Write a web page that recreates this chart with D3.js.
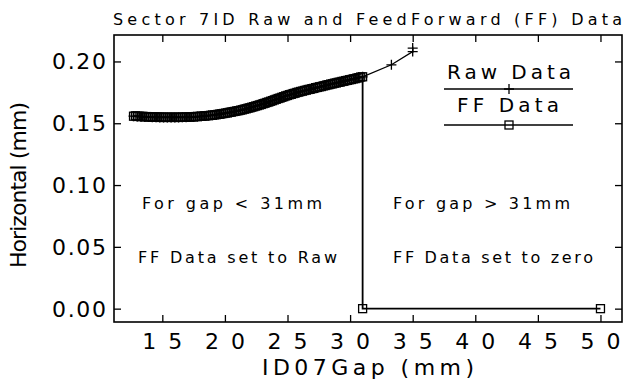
<!DOCTYPE html>
<html>
<head>
<meta charset="utf-8">
<title>Sector 7ID Raw and FeedForward (FF) Data</title>
<script src="https://cdn.jsdelivr.net/npm/d3@7"></script>
<style>
  body { margin: 0; background: #fff; }
  svg { display: block; }
  text { font-family: "DejaVu Sans", sans-serif; fill: #000; }
</style>
</head>
<body>
<svg id="chart" width="628" height="380"></svg>
<script>
// gap scan below 31 mm, opening pass (raw = FF here)
var scanGap = [12.7, 13.0, 13.3, 13.6, 13.9, 14.2, 14.5, 14.8, 15.1, 15.4, 15.7, 16.0, 16.3, 16.6, 16.9,
  17.2, 17.5, 17.8, 18.1, 18.4, 18.7, 19.0, 19.3, 19.6, 19.9, 20.2, 20.5, 20.8, 21.1, 21.4, 21.7,
  22.0, 22.3, 22.6, 22.9, 23.2, 23.5, 23.8, 24.1, 24.4, 24.7, 25.0, 25.3, 25.6, 25.9, 26.2, 26.5,
  26.8, 27.1, 27.4, 27.7, 28.0, 28.3, 28.6, 28.9, 29.2, 29.5, 29.8, 30.1, 30.4, 30.7, 31.0];
var scanHoriz = [0.1557, 0.1555, 0.1553, 0.1552, 0.1550, 0.1549, 0.1548, 0.1547, 0.1547, 0.1547, 0.1547, 0.1547, 0.1547, 0.1548, 0.1549,
  0.1550, 0.1552, 0.1554, 0.1556, 0.1559, 0.1562, 0.1565, 0.1569, 0.1574, 0.1579, 0.1584, 0.1590, 0.1596, 0.1602, 0.1609, 0.1617,
  0.1625, 0.1634, 0.1643, 0.1652, 0.1662, 0.1672, 0.1683, 0.1694, 0.1704, 0.1715, 0.1725, 0.1734, 0.1743, 0.1752, 0.1760, 0.1768,
  0.1775, 0.1782, 0.1790, 0.1797, 0.1805, 0.1812, 0.1819, 0.1826, 0.1833, 0.1840, 0.1847, 0.1854, 0.1861, 0.1869, 0.1876];

// closing pass, read between the opening-pass points
var backGap = [30.85, 30.55, 30.25, 29.95, 29.65, 29.35, 29.05, 28.75, 28.45, 28.15, 27.85, 27.55, 27.25, 26.95, 26.65,
  26.35, 26.05, 25.75, 25.45, 25.15, 24.85, 24.55, 24.25, 23.95, 23.65, 23.35, 23.05, 22.75, 22.45, 22.15, 21.85,
  21.55, 21.25, 20.95, 20.65, 20.35, 20.05, 19.75, 19.45, 19.15, 18.85, 18.55, 18.25, 17.95, 17.65, 17.35, 17.05,
  16.75, 16.45, 16.15, 15.85, 15.55, 15.25, 14.95, 14.65, 14.35, 14.05, 13.75, 13.45, 13.15, 12.85];
var backHoriz = [0.1874, 0.1866, 0.1859, 0.1852, 0.1845, 0.1838, 0.1831, 0.1824, 0.1817, 0.1810, 0.1802, 0.1795, 0.1788, 0.1780, 0.1773,
  0.1765, 0.1757, 0.1749, 0.1740, 0.1731, 0.1721, 0.1710, 0.1700, 0.1689, 0.1678, 0.1668, 0.1658, 0.1648, 0.1639, 0.1630, 0.1622,
  0.1614, 0.1606, 0.1600, 0.1594, 0.1588, 0.1582, 0.1577, 0.1572, 0.1568, 0.1564, 0.1561, 0.1558, 0.1556, 0.1554, 0.1552, 0.1551,
  0.1550, 0.1549, 0.1549, 0.1549, 0.1549, 0.1549, 0.1550, 0.1551, 0.1552, 0.1553, 0.1554, 0.1556, 0.1558, 0.1560];

// raw points above 31 mm
var rawExtraGap = [33.3, 35.0, 35.0];
var rawExtraHoriz = [0.1973, 0.2080, 0.2108];

// FF points above 31 mm (set to zero)
var ffExtraGap = [31.0, 50.0];
var ffExtraHoriz = [0.0, 0.0];

var xTicks = [15, 20, 25, 30, 35, 40, 45, 50];
var yTicks = [0.00, 0.05, 0.10, 0.15, 0.20];

var backData = backGap.map((g, i) => [g, backHoriz[i]]);
var rawData = scanGap.map((g, i) => [g, scanHoriz[i]])
  .concat(rawExtraGap.map((g, i) => [g, rawExtraHoriz[i]]));
var ffData = scanGap.map((g, i) => [g, scanHoriz[i]])
  .concat(ffExtraGap.map((g, i) => [g, ffExtraHoriz[i]]));

var mLeft = 114, mRight = 622, mTop = 35, mBottom = 322;
var svg = d3.select("#chart");

var x = d3.scaleLinear().domain([11.14, 51.72]).range([mLeft, mRight]);
var y = d3.scaleLinear().domain([-0.0108, 0.2214]).range([mBottom, mTop]);

// axes: ticks pointing inward on all four sides
function styleAxis(g) {
  g.select(".domain").remove();
  g.selectAll(".tick line").attr("stroke", "#000").attr("stroke-width", 1.3);
}
svg.append("g").attr("transform", `translate(0,${mBottom})`)
  .call(d3.axisBottom(x).tickValues(xTicks).tickSizeInner(-7).tickSizeOuter(0).tickFormat(""))
  .call(styleAxis);
svg.append("g").attr("transform", `translate(0,${mTop})`)
  .call(d3.axisTop(x).tickValues(xTicks).tickSizeInner(-7).tickSizeOuter(0).tickFormat(""))
  .call(styleAxis);
svg.append("g").attr("transform", `translate(${mLeft},0)`)
  .call(d3.axisLeft(y).tickValues(yTicks).tickSizeInner(-7).tickSizeOuter(0).tickFormat(""))
  .call(styleAxis);
svg.append("g").attr("transform", `translate(${mRight},0)`)
  .call(d3.axisRight(y).tickValues(yTicks).tickSizeInner(-7).tickSizeOuter(0).tickFormat(""))
  .call(styleAxis);

svg.append("rect")
  .attr("x", mLeft).attr("y", mTop)
  .attr("width", mRight - mLeft).attr("height", mBottom - mTop)
  .attr("fill", "none").attr("stroke", "#000").attr("stroke-width", 1.6);

// spaced text: start-anchored, stretched to a fixed width
function spaced(sel, size, len) {
  return sel.attr("font-size", size)
    .attr("textLength", len).attr("lengthAdjust", "spacing");
}

// tick labels
svg.selectAll(".xlab").data(xTicks).enter().append("text")
  .attr("x", d => x(d) - 20).attr("y", 349)
  .call(spaced, 22, 40)
  .text(d => d);

svg.selectAll(".ylab").data(yTicks).enter().append("text")
  .attr("x", 52).attr("y", d => y(d) + 8)
  .call(spaced, 22, 54)
  .text(d => d.toFixed(2));

// titles
svg.append("text").attr("x", 113).attr("y", 25)
  .call(spaced, 16, 509)
  .text("Sector 7ID Raw and FeedForward (FF) Data");
svg.append("text").attr("x", 262).attr("y", 375)
  .call(spaced, 22, 212)
  .text("ID07Gap (mm)");
svg.append("text")
  .attr("transform", "translate(26,268) rotate(-90)")
  .call(spaced, 22, 166)
  .text("Horizontal (mm)");

// annotations
var notes = [
  ["For gap < 31mm", 142, 209, 180],
  ["FF Data set to Raw", 138, 263, 199],
  ["For gap > 31mm", 393, 209, 177],
  ["FF Data set to zero", 393, 263, 200]
];
svg.selectAll(".note").data(notes).enter().append("text")
  .attr("x", d => d[1]).attr("y", d => d[2])
  .attr("font-size", 16)
  .attr("textLength", d => d[3]).attr("lengthAdjust", "spacing")
  .text(d => d[0]);

var line = d3.line().x(d => x(d[0])).y(d => y(d[1]));

function plus(g, px, py) {
  g.append("path")
    .attr("d", `M${px - 5},${py}H${px + 5}M${px},${py - 5}V${py + 5}`)
    .attr("stroke", "#000").attr("stroke-width", 1.3).attr("fill", "none");
}
function square(g, px, py) {
  g.append("rect")
    .attr("x", px - 4).attr("y", py - 4).attr("width", 8).attr("height", 8)
    .attr("fill", "none").attr("stroke", "#000").attr("stroke-width", 1.3);
}

// raw data: line with plus markers
var rawG = svg.append("g");
rawG.append("path").datum(rawData).attr("d", line)
  .attr("fill", "none").attr("stroke", "#000").attr("stroke-width", 1.3);
rawData.forEach(d => plus(rawG, x(d[0]), y(d[1])));

// FF data: line with square markers (both passes)
var ffG = svg.append("g");
ffG.append("path").datum(backData).attr("d", line)
  .attr("fill", "none").attr("stroke", "#000").attr("stroke-width", 1.3);
backData.forEach(d => square(ffG, x(d[0]), y(d[1])));
ffG.append("path").datum(ffData).attr("d", line)
  .attr("fill", "none").attr("stroke", "#000").attr("stroke-width", 1.8);
ffData.forEach(d => square(ffG, x(d[0]), y(d[1])));

// legend
var leg = svg.append("g");
leg.append("text").attr("x", 447).attr("y", 79)
  .call(spaced, 20, 124)
  .text("Raw Data");
leg.append("line").attr("x1", 444).attr("x2", 573).attr("y1", 89).attr("y2", 89)
  .attr("stroke", "#000").attr("stroke-width", 1.3);
plus(leg, 509, 89);
leg.append("text").attr("x", 457).attr("y", 112)
  .call(spaced, 20, 102)
  .text("FF Data");
leg.append("line").attr("x1", 444).attr("x2", 573).attr("y1", 125).attr("y2", 125)
  .attr("stroke", "#000").attr("stroke-width", 1.3);
square(leg, 509, 125);
</script>
</body>
</html>
